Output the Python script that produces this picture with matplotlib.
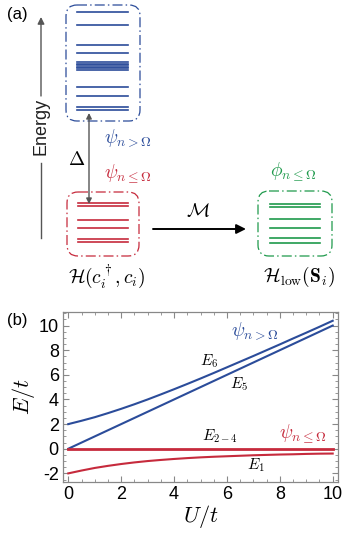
import numpy as np
import matplotlib
matplotlib.use('Agg')
import matplotlib.pyplot as plt
from matplotlib.patches import FancyBboxPatch

plt.rcParams['font.family'] = ['Liberation Sans', 'DejaVu Sans']
plt.rcParams['mathtext.fontset'] = 'cm'
plt.rcParams['axes.unicode_minus'] = False

BLUE = '#2b4c9a'
RED = '#c62a3c'
GREEN = '#1f9a4c'

# panel (b) data
U = [0, 0.5, 1, 1.5, 2, 2.5, 3, 3.5, 4, 4.5, 5, 5.5, 6, 6.5, 7, 7.5, 8, 8.5, 9, 9.5, 10]
E6 = [2.0, 2.27, 2.56, 2.89, 3.24, 3.61, 4.0, 4.41, 4.83, 5.26, 5.70, 6.15, 6.61,
      7.07, 7.53, 8.0, 8.47, 8.95, 9.42, 9.90, 10.39]
E5 = [0, 0.5, 1, 1.5, 2, 2.5, 3, 3.5, 4, 4.5, 5, 5.5, 6, 6.5, 7, 7.5, 8, 8.5, 9, 9.5, 10]
E24 = [0] * len(U)
E1 = [-2.0, -1.77, -1.56, -1.39, -1.24, -1.11, -1.0, -0.91, -0.83, -0.76, -0.70,
      -0.65, -0.61, -0.57, -0.53, -0.50, -0.47, -0.45, -0.42, -0.40, -0.39]

# panel (a) level schemes (pixel rows)
blue_levels = [12, 25, 45, 53, 62, 63.6, 65.2, 66.8, 68.4, 70, 87, 96, 107, 109.5]
red_levels = [203, 205.5, 220, 228, 239, 241.5]
green_levels = [204, 207.3, 219.3, 227.7, 238.3, 243.3]

fig = plt.figure(figsize=(3.53, 5.38), dpi=100)

### panel (a): drawn in pixel coordinates
ax0 = fig.add_axes([0, 0, 1, 1])
ax0.set_xlim(0, 353)
ax0.set_ylim(538, 0)
ax0.axis('off')

dd = (0, (8, 2.5, 1.2, 2.5))
def box(x0, y0, x1, y1, col):
    p = FancyBboxPatch((x0, y0), x1 - x0, y1 - y0,
                       boxstyle='round,pad=0,rounding_size=11',
                       fc='none', ec=col, lw=0.9, ls=dd)
    ax0.add_patch(p)

box(66, 5, 140, 121, BLUE)
box(67, 192, 139, 256, RED)
box(258, 191, 332, 256, GREEN)

for y in blue_levels:
    ax0.plot([77, 128], [y, y], color=BLUE, lw=1.2)
for y in red_levels:
    ax0.plot([78, 128], [y, y], color=RED, lw=1.2)
for y in green_levels:
    ax0.plot([270, 320], [y, y], color=GREEN, lw=1.2)

# energy axis
ax0.plot([41, 41], [238, 163], color='#555555', lw=1.0)
ax0.annotate('', xy=(41, 17), xytext=(41, 96),
             arrowprops=dict(arrowstyle='-|>', color='#555555', lw=1.0,
                             mutation_scale=10, shrinkA=0, shrinkB=0))
ax0.text(41, 126, 'Energy', rotation=90, ha='center', va='center',
         fontsize=13, color='#222222')
ax0.text(17, 15, '(a)', ha='center', va='center', fontsize=12)

# gap arrow
ax0.annotate('', xy=(89, 113), xytext=(89, 204),
             arrowprops=dict(arrowstyle='<|-|>', color='#555555', lw=1.0,
                             mutation_scale=8, shrinkA=0, shrinkB=0))
ax0.text(77, 160, r'$\Delta$', ha='center', va='center', fontsize=14)
ax0.text(128, 139, r'$\psi_{n>\Omega}$', ha='center', va='center', fontsize=14, color=BLUE)
ax0.text(128, 174, r'$\psi_{n\leq\Omega}$', ha='center', va='center', fontsize=14, color=RED)
ax0.text(293, 172, r'$\phi_{n\leq\Omega}$', ha='center', va='center', fontsize=14, color=GREEN)
ax0.text(107, 277, r'$\mathcal{H}(c_i^\dagger,c_i)$', ha='center', va='center', fontsize=14)
ax0.text(299, 277, r'$\mathcal{H}_{\mathrm{low}}(\mathbf{S}_i)$', ha='center', va='center', fontsize=14)

# mapping arrow
ax0.annotate('', xy=(246, 229), xytext=(153, 229),
             arrowprops=dict(arrowstyle='-|>', color='black', lw=1.4,
                             mutation_scale=14, shrinkA=0, shrinkB=0))
ax0.text(198, 212, r'$\mathcal{M}$', ha='center', va='center', fontsize=14)
ax0.text(17, 320, '(b)', ha='center', va='center', fontsize=12)

### panel (b)
ax = fig.add_axes([63 / 353, 56 / 538, 275 / 353, 170 / 538])
ax.plot(U, E6, color=BLUE, lw=1.5)
ax.plot(U, E5, color=BLUE, lw=1.5)
ax.plot(U, E24, color=RED, lw=2.0)
ax.plot(U, E1, color=RED, lw=1.5)
ax.set_xlim(-0.2, 10.2)
ax.set_ylim(-2.7, 11.1)
ax.set_xticks([0, 2, 4, 6, 8, 10])
ax.set_yticks([-2, 0, 2, 4, 6, 8, 10])
ax.set_xticks(np.arange(0, 10.01, 0.5), minor=True)
ax.set_yticks(np.arange(-2.5, 11.01, 0.5), minor=True)
ax.tick_params(which='both', direction='in', top=True, right=True,
               color='#888888', labelsize=13, pad=3)
ax.tick_params(which='major', length=4, width=0.8)
ax.tick_params(which='minor', length=2, width=0.6)
for s in ax.spines.values():
    s.set_color('#888888')
    s.set_linewidth(0.9)
ax.set_xlabel(r'$U/t$', fontsize=16, labelpad=0)
ax.set_ylabel(r'$E/t$', fontsize=16, labelpad=1)

ax.text(7.03, 9.5, r'$\psi_{n>\Omega}$', color=BLUE, fontsize=14, ha='center', va='center')
ax.text(8.86, 1.13, r'$\psi_{n\leq\Omega}$', color=RED, fontsize=14, ha='center', va='center')
ax.text(5.33, 7.1, r'$E_6$', fontsize=11, ha='center', va='center')
ax.text(6.44, 5.2, r'$E_5$', fontsize=11, ha='center', va='center')
ax.text(5.75, 1.0, r'$E_{2-4}$', fontsize=11, ha='center', va='center')
ax.text(7.1, -1.3, r'$E_1$', fontsize=11, ha='center', va='center')

fig.savefig('out.png', dpi=100)
